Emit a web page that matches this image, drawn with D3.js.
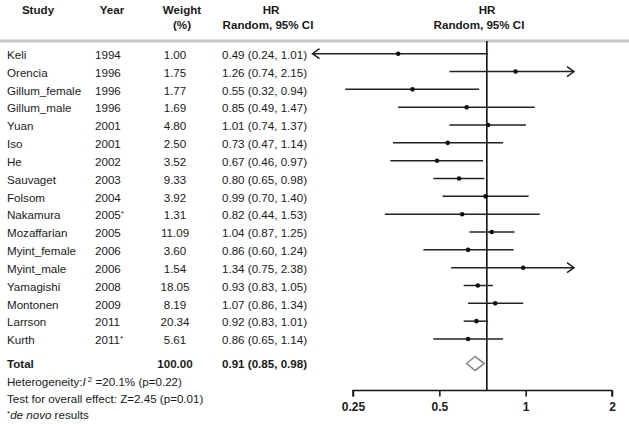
<!DOCTYPE html>
<html><head><meta charset="utf-8">
<script src="https://cdn.jsdelivr.net/npm/d3@7"></script>
<style>
body{margin:0;background:#fff;}
svg text{font-family:"Liberation Sans",Arial,Helvetica,sans-serif;fill:#1a1a1a;}
</style></head>
<body><svg id="chart" width="629" height="424"></svg>
<script>
const studies = ["Keli","Orencia","Gillum_female","Gillum_male","Yuan","Iso","He","Sauvaget","Folsom","Nakamura","Mozaffarian","Myint_female","Myint_male","Yamagishi","Montonen","Larrson","Kurth"];
const years = ["1994","1996","1996","1996","2001","2001","2002","2003","2004","2005*","2005","2006","2006","2008","2009","2011","2011*"];
const weights = [1.00,1.75,1.77,1.69,4.80,2.50,3.52,9.33,3.92,1.31,11.09,3.60,1.54,18.05,8.19,20.34,5.61];
const hr = [0.49,1.26,0.55,0.85,1.01,0.73,0.67,0.80,0.99,0.82,1.04,0.86,1.34,0.93,1.07,0.92,0.86];
const lo = [0.24,0.74,0.32,0.49,0.74,0.47,0.46,0.65,0.70,0.44,0.87,0.60,0.75,0.83,0.86,0.83,0.65];
const hi = [1.01,2.15,0.94,1.47,1.37,1.14,0.97,0.98,1.40,1.53,1.25,1.24,2.38,1.05,1.34,1.01,1.14];
const total = {weight:100.00, hr:0.91, lo:0.85, hi:0.98};
const axisTicks = [0.25,0.5,1,2];
const tickLabels = ["0.25","0.5","1","2"];

const svg = d3.select("#chart");
const f2 = d3.format(".2f");
const fs = 11.6;
const BL = 4.2; // offset from row centre to baseline

// scales
const x = d3.scaleLog().domain([0.25,2]).range([314.5,573]);      // marks
const xAxisScale = d3.scaleLog().domain([0.25,2]).range([353,612]); // axis as drawn in the original
const y = d3.scaleLinear().domain([0,16]).range([54.7,340]);
const yTotal = 363.5;

// header
const hdr = svg.append("g").attr("font-weight","bold").attr("font-size",fs);
[["Study",38,10],["Year",112,10],["Weight",182,10],["(%)",182,25],["HR",271,10],["Random, 95% CI",268,25],["HR",487,10],["Random, 95% CI",479,25]]
 .forEach(([t,xx,yy])=>hdr.append("text").attr("x",xx).attr("y",yy+BL).attr("text-anchor","middle").text(t));
svg.append("line").attr("x1",0).attr("x2",629).attr("y1",41).attr("y2",41).attr("stroke","#c8c8c8").attr("stroke-width",3);

// table rows
const rows = svg.append("g").attr("font-size",fs);
studies.forEach((s,i)=>{
  const yy = y(i)+BL;
  rows.append("text").attr("x",7).attr("y",yy).text(s);
  const yt = rows.append("text").attr("x",95).attr("y",yy);
  const parts = years[i].split("*");
  yt.append("tspan").text(parts[0]);
  if(years[i].includes("*")) yt.append("tspan").attr("font-size",8).attr("dy",-3).text("*");
  rows.append("text").attr("x",175).attr("y",yy).attr("text-anchor","middle").text(f2(weights[i]));
  rows.append("text").attr("x",222).attr("y",yy).text(`${f2(hr[i])} (${f2(lo[i])}, ${f2(hi[i])})`);
});
const tot = svg.append("g").attr("font-size",fs).attr("font-weight","bold");
tot.append("text").attr("x",7).attr("y",yTotal+BL).text("Total");
tot.append("text").attr("x",175).attr("y",yTotal+BL).attr("text-anchor","middle").text(f2(total.weight));
tot.append("text").attr("x",222).attr("y",yTotal+BL).text(`${f2(total.hr)} (${f2(total.lo)}, ${f2(total.hi)})`);

// footnotes
const foot = svg.append("g").attr("font-size",fs);
const h1 = foot.append("text").attr("x",7).attr("y",381.7+BL);
h1.append("tspan").text("Heterogeneity:");
h1.append("tspan").attr("font-style","italic").text("I");
h1.append("tspan").attr("font-size",8).attr("dy",-4).text(" 2");
h1.append("tspan").attr("dy",4).text(" =20.1% (p=0.22)");
foot.append("text").attr("x",7).attr("y",398.3+BL).text("Test for overall effect: Z=2.45 (p=0.01)");
const h3 = foot.append("text").attr("x",7).attr("y",414.3+BL);
h3.append("tspan").attr("font-size",8).attr("dy",-3).text("*");
h3.append("tspan").attr("dy",3).attr("font-style","italic").text("de novo");
h3.append("tspan").text(" results");

// reference line
svg.append("line").attr("x1",x(1)).attr("x2",x(1)).attr("y1",41).attr("y2",391).attr("stroke","#111").attr("stroke-width",1.6);

// CI lines
const plot = svg.append("g");
const [dmin,dmax] = x.domain();
studies.forEach((s,i)=>{
  const yy = y(i)-1;
  const x1 = x(Math.max(lo[i],dmin)), x2 = x(Math.min(hi[i],dmax));
  plot.append("line").attr("x1",lo[i]<dmin?x1-2:x1).attr("x2",x2).attr("y1",yy).attr("y2",yy).attr("stroke","#222").attr("stroke-width",1.5);
  if(lo[i]<dmin){
    plot.append("path").attr("d",`M${x1+5},${yy-5}L${x1-2},${yy}L${x1+5},${yy+5}`).attr("fill","none").attr("stroke","#222").attr("stroke-width",1.5);
  }
  if(hi[i]>dmax){
    plot.append("path").attr("d",`M${x2-6},${yy-5}L${x2+1},${yy}L${x2-6},${yy+5}`).attr("fill","none").attr("stroke","#222").attr("stroke-width",1.5);
  }
  plot.append("circle").attr("cx",x(hr[i])).attr("cy",yy).attr("r",2.3).attr("fill","#111");
});

// diamond
const cy = yTotal;
plot.append("path")
  .attr("d",`M${x(total.lo)},${cy}L${x(total.hr)},${cy-7}L${x(total.hi)},${cy}L${x(total.hr)},${cy+7}Z`)
  .attr("fill","#fff").attr("stroke","#8a8a8a").attr("stroke-width",1.6);

// axis
const ax = svg.append("g").attr("transform","translate(0,390.5)")
  .call(d3.axisBottom(xAxisScale).tickValues(axisTicks).tickFormat((d,i)=>tickLabels[i]).tickSize(6).tickPadding(6));
ax.select(".domain").attr("stroke","#111").attr("stroke-width",1.5).attr("d",`M${xAxisScale(0.25)},6V0H${xAxisScale(2)}V6`);
ax.selectAll(".tick line").attr("stroke","#111").attr("stroke-width",1.5);
ax.selectAll(".tick text").attr("font-size",12).attr("font-weight","bold").attr("fill","#1a1a1a")
  .attr("font-family","Liberation Sans, Arial, sans-serif");
</script></body></html>
